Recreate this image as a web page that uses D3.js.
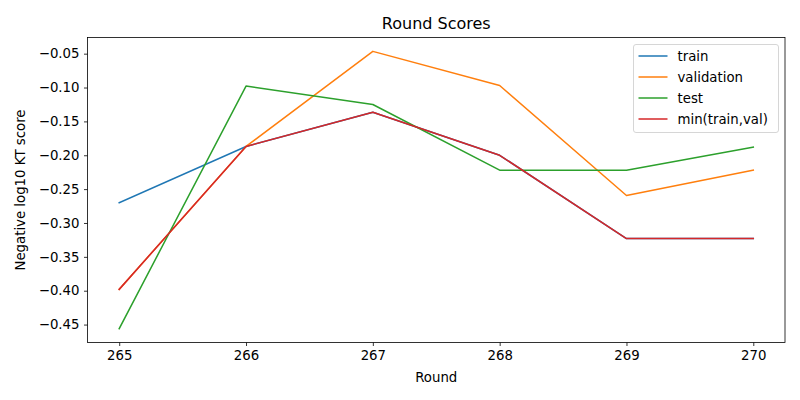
<!DOCTYPE html>
<html>
<head>
<meta charset="utf-8">
<script src="https://cdn.jsdelivr.net/npm/d3@7"></script>
<style>
  body { margin: 0; background: #fff; }
  text { font-family: "DejaVu Sans", sans-serif; }
</style>
</head>
<body>
<div id="main"></div>
<script>
// data
var rounds = [265, 266, 267, 268, 269, 270];
var train = [-0.270, -0.187, -0.1365, -0.200, -0.323, -0.323];
var validation = [-0.398, -0.187, -0.0466, -0.097, -0.2595, -0.222];
var test = [-0.456, -0.0978, -0.125, -0.222, -0.222, -0.188];
var minTrainVal = [-0.398, -0.187, -0.1365, -0.200, -0.323, -0.323];
var yTicks = [-0.05, -0.10, -0.15, -0.20, -0.25, -0.30, -0.35, -0.40, -0.45];

var seriesNames = ["train", "validation", "test", "min(train,val)"];
var seriesColors = ["#1f77b4", "#ff7f0e", "#2ca02c", "#d62728"];
var seriesValues = [train, validation, test, minTrainVal];

var ctx = {
    w: 800,
    h: 400,
    left: 87.5,
    right: 785,
    top: 37.5,
    bottom: 342.5,
};

var createViz = function () {
    var svg = d3.select("#main").append("svg")
        .attr("width", ctx.w)
        .attr("height", ctx.h);

    var x = d3.scaleLinear().domain([264.75, 270.25]).range([ctx.left, ctx.right]);
    var allVals = [].concat(train, validation, test, minTrainVal);
    var lo = d3.min(allVals), hi = d3.max(allVals), pad = (hi - lo) * 0.05;
    var y = d3.scaleLinear().domain([lo - pad, hi + pad]).range([ctx.bottom, ctx.top]);

    // lines
    var line = d3.line()
        .x(function (d, i) { return x(rounds[i]); })
        .y(function (d) { return y(d); });

    svg.append("g")
        .selectAll("path")
        .data(seriesValues)
        .enter()
        .append("path")
        .attr("d", line)
        .attr("fill", "none")
        .attr("stroke", function (d, i) { return seriesColors[i]; })
        .attr("stroke-width", 1.5)
        .attr("stroke-linejoin", "round")
        .attr("stroke-linecap", "square");

    // axes
    var xAxis = d3.axisBottom(x).tickValues(rounds).tickFormat(d3.format("d"))
        .tickSize(3.5).tickPadding(4.5);
    var gx = svg.append("g")
        .attr("transform", "translate(0," + ctx.bottom + ")")
        .call(xAxis);
    var yAxis = d3.axisLeft(y).tickValues(yTicks)
        .tickFormat(function (d) { return d3.format(".2f")(d).replace("-", "\u2212"); })
        .tickSize(3.5).tickPadding(4.5);
    var gy = svg.append("g")
        .attr("transform", "translate(" + ctx.left + ",0)")
        .call(yAxis);
    [gx, gy].forEach(function (g) {
        g.select(".domain").remove();
        g.selectAll("line").attr("stroke", "#000").attr("stroke-width", 0.8);
        g.selectAll("text").attr("font-size", "13.3px").attr("fill", "#000")
            .attr("font-family", "DejaVu Sans");
    });

    // frame
    svg.append("rect")
        .attr("x", ctx.left)
        .attr("y", ctx.top)
        .attr("width", ctx.right - ctx.left)
        .attr("height", ctx.bottom - ctx.top)
        .attr("fill", "none")
        .attr("stroke", "#000")
        .attr("stroke-width", 0.8);

    // labels
    svg.append("text")
        .attr("x", (ctx.left + ctx.right) / 2)
        .attr("y", 29)
        .attr("text-anchor", "middle")
        .attr("font-size", "16px")
        .text("Round Scores");
    svg.append("text")
        .attr("x", (ctx.left + ctx.right) / 2)
        .attr("y", 382)
        .attr("text-anchor", "middle")
        .attr("font-size", "13.3px")
        .text("Round");
    svg.append("text")
        .attr("transform", "translate(25," + (ctx.top + ctx.bottom) / 2 + ") rotate(-90)")
        .attr("text-anchor", "middle")
        .attr("font-size", "13.3px")
        .text("Negative log10 KT score");

    // legend
    var legend = svg.append("g").attr("transform", "translate(633.5,44.5)");
    legend.append("rect")
        .attr("width", 145)
        .attr("height", 88)
        .attr("rx", 2.5)
        .attr("fill", "#fff")
        .attr("fill-opacity", 0.8)
        .attr("stroke", "#cccccc")
        .attr("stroke-width", 0.8);
    var item = legend.selectAll("g.item")
        .data(seriesNames)
        .enter()
        .append("g")
        .attr("class", "item")
        .attr("transform", function (d, i) { return "translate(0," + (11.5 + i * 21) + ")"; });
    item.append("line")
        .attr("x1", 5).attr("x2", 34)
        .attr("stroke", function (d, i) { return seriesColors[i]; })
        .attr("stroke-width", 1.5);
    item.append("text")
        .attr("x", 44)
        .attr("dy", "0.35em")
        .attr("font-size", "13.3px")
        .text(function (d) { return d; });
};

createViz();
</script>
</body>
</html>
